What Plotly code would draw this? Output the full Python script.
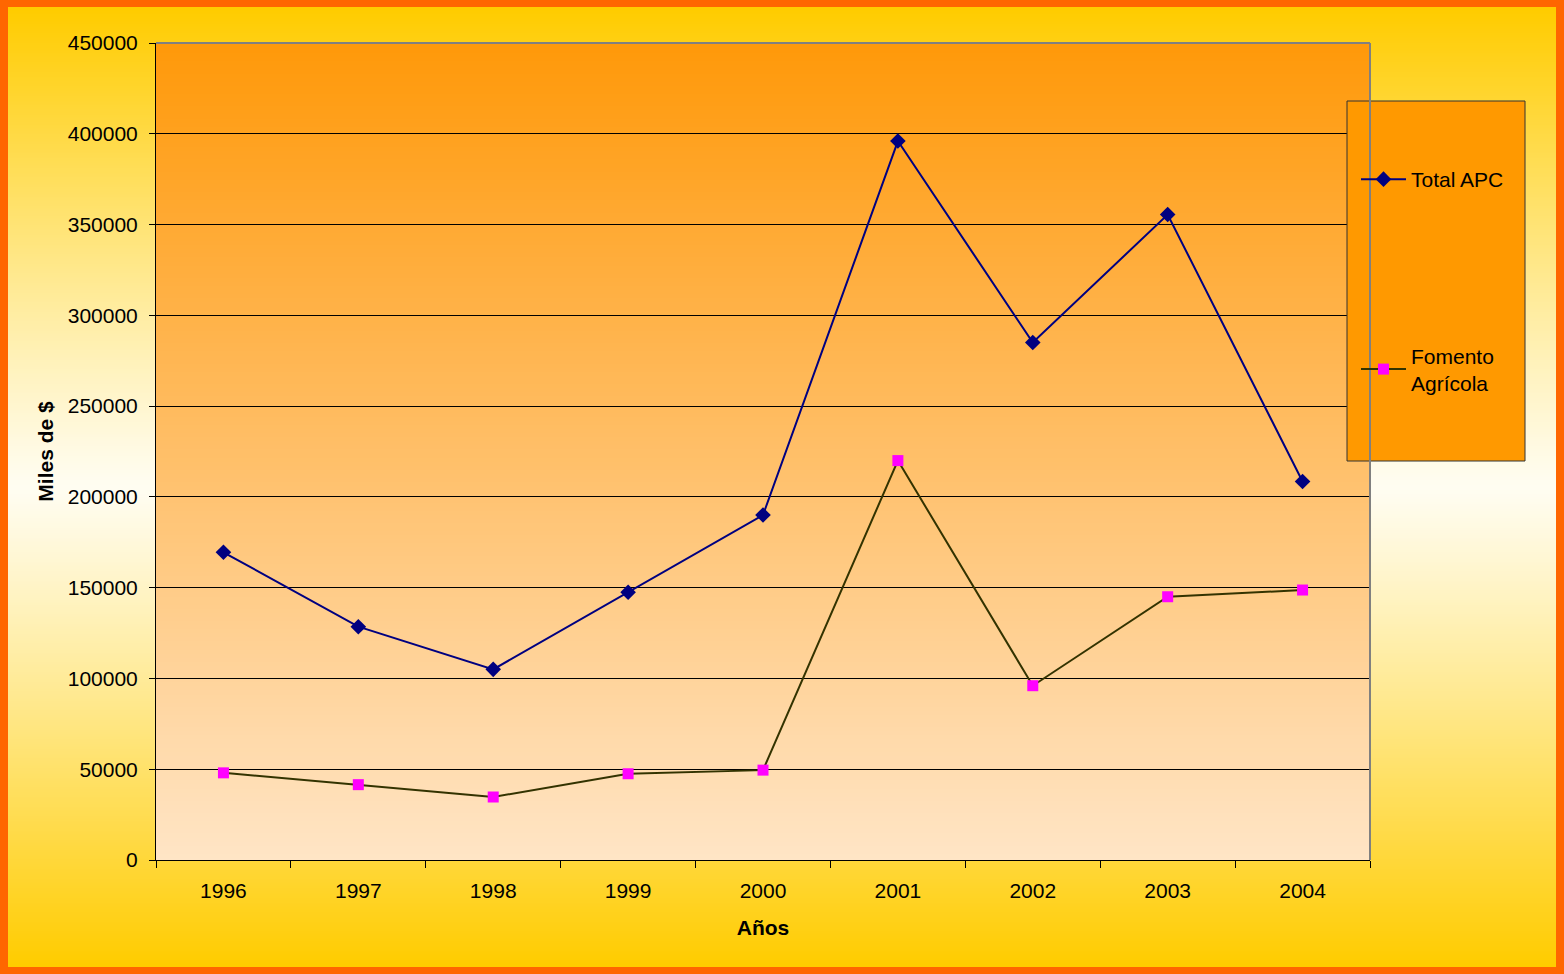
import base64, struct, zlib
import plotly.graph_objects as go

years = ["1996", "1997", "1998", "1999", "2000", "2001", "2002", "2003", "2004"]
total_apc = [169500, 128500, 105000, 147500, 190000, 396000, 285000, 355500, 208500]
fomento = [48000, 41500, 34700, 47500, 49500, 220000, 96000, 145000, 148700]
y_ticks = [0, 50000, 100000, 150000, 200000, 250000, 300000, 350000, 400000, 450000]

W, H = 1564, 974
L, R, T, B = 156, 1370, 43, 860  # plot area in px


def px_x(p):
    return (p - L) / (R - L)


def px_y(p):
    return (B - p) / (B - T)


def png_gradient(colors):
    rows = b""
    for c in colors:
        rows += b"\x00" + bytes(c) + bytes(c)
    def chunk(tag, data):
        return struct.pack(">I", len(data)) + tag + data + struct.pack(">I", zlib.crc32(tag + data) & 0xffffffff)
    png = b"\x89PNG\r\n\x1a\n"
    png += chunk(b"IHDR", struct.pack(">IIBBBBB", 2, len(colors), 8, 2, 0, 0, 0))
    png += chunk(b"IDAT", zlib.compress(rows))
    png += chunk(b"IEND", b"")
    return "data:image/png;base64," + base64.b64encode(png).decode()


def lerp(a, b, t):
    return tuple(int(round(a[i] + (b[i] - a[i]) * t)) for i in range(3))

# outer background: yellow - near white - yellow
n = 200
outer = []
for i in range(n):
    t = abs(i / (n - 1) - 0.5) * 2
    outer.append(lerp((255, 253, 242), (255, 204, 0), t ** 1.1))
# plot area: orange top -> peach bottom
inner = [lerp((255, 153, 10), (255, 229, 198), i / (n - 1)) for i in range(n)]

fig = go.Figure()
fig.add_trace(go.Scatter(
    x=years, y=total_apc, name="Total APC", mode="lines+markers",
    line=dict(color="#000080", width=2),
    marker=dict(symbol="diamond", size=12, color="#000080"),
    legendgroup="a",
))
fig.add_trace(go.Scatter(
    x=years, y=fomento, name="Fomento<br>Agrícola", mode="lines+markers",
    line=dict(color="#333300", width=2),
    marker=dict(symbol="square", size=11, color="#FF00FF"),
    legendgroup="b",
))

fig.update_layout(
    width=W, height=H,
    margin=dict(l=L, r=W - R, t=T, b=H - B),
    paper_bgcolor="#FF6600",
    plot_bgcolor="rgba(0,0,0,0)",
    font=dict(family="Liberation Sans, Arial, sans-serif", size=21, color="black"),
    images=[
        dict(source=png_gradient(outer), xref="paper", yref="paper",
             x=px_x(8), y=px_y(7), sizex=px_x(1556) - px_x(8), sizey=px_y(7) - px_y(967),
             xanchor="left", yanchor="top", sizing="stretch", layer="below"),
        dict(source=png_gradient(inner), xref="paper", yref="paper",
             x=0, y=1, sizex=1, sizey=1,
             xanchor="left", yanchor="top", sizing="stretch", layer="below"),
    ],
    shapes=[
        dict(type="rect", xref="paper", yref="paper",
             x0=px_x(1347), x1=px_x(1525), y0=px_y(461), y1=px_y(101),
             fillcolor="#FF9900", line=dict(color="#333333", width=1), layer="above"),
        dict(type="line", xref="paper", yref="paper", x0=0, x1=1, y0=1, y1=1,
             line=dict(color="#808080", width=2), layer="above"),
        dict(type="line", xref="paper", yref="paper", x0=1, x1=1, y0=0, y1=1,
             line=dict(color="#808080", width=2), layer="above"),
    ],
    legend=dict(
        x=px_x(1356), y=px_y(159), xanchor="left", yanchor="top",
        bgcolor="rgba(0,0,0,0)", borderwidth=0,
        font=dict(size=21), tracegroupgap=146, itemwidth=45,
    ),
    showlegend=True,
)

fig.update_xaxes(
    type="category", range=[-0.5, 8.5],
    showline=True, linecolor="black", linewidth=1,
    ticks="outside", tickson="boundaries", ticklen=7, tickcolor="black",
    showgrid=False, ticklabelstandoff=12,
    title=dict(text="<b>Años</b>", font=dict(size=21), standoff=19),
)
fig.update_yaxes(
    range=[0, 450000], tickvals=y_ticks, ticktext=[str(v) for v in y_ticks],
    showline=True, linecolor="black", linewidth=1,
    ticks="outside", ticklen=6, tickcolor="black", ticklabelstandoff=7,
    showgrid=True, gridcolor="black", gridwidth=1, zeroline=False,
    title=dict(text="<b>Miles de $</b>", font=dict(size=21), standoff=8),
)

fig.write_html("out.html", config={"displayModeBar": False},
               post_script="document.body.style.margin='0';document.body.style.overflow='hidden';")
